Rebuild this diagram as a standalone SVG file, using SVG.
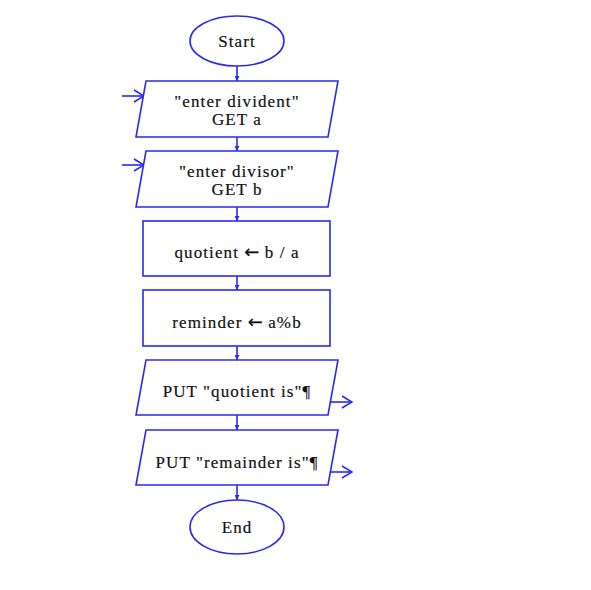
<svg xmlns="http://www.w3.org/2000/svg" width="591" height="590" viewBox="0 0 591 590">
<style>
.shape{fill:#fff;stroke:#2a2aee;stroke-width:1.6}
.line{stroke:#2a2aee;stroke-width:1.6;fill:none}
text{font-family:"Liberation Serif","Times New Roman",serif;font-size:17px;fill:#111;stroke:#111;stroke-width:0.2;text-anchor:middle;letter-spacing:1.1px}
.arr{font-family:"DejaVu Sans",sans-serif;font-size:18px;letter-spacing:0}
</style>
<defs>
<marker id="open" viewBox="0 0 12 14" refX="11" refY="7" markerWidth="12" markerHeight="14" markerUnits="userSpaceOnUse" orient="auto">
<path d="M1,1 L11,7 L1,13" fill="none" stroke="#2a2aee" stroke-width="1.6"/>
</marker>
<marker id="small" viewBox="0 0 6 6" refX="6" refY="3" markerWidth="5" markerHeight="5" markerUnits="userSpaceOnUse" orient="auto">
<path d="M0,0 L6,3 L0,6 Z" fill="#2a2aee"/>
</marker>
</defs>
<rect width="591" height="590" fill="#fff"/>
<g id="connectors">
<line class="line" x1="237" y1="66" x2="237" y2="81" marker-end="url(#small)"/>
<line class="line" x1="237" y1="137" x2="237" y2="151" marker-end="url(#small)"/>
<line class="line" x1="237" y1="207" x2="237" y2="221" marker-end="url(#small)"/>
<line class="line" x1="237" y1="276" x2="237" y2="290" marker-end="url(#small)"/>
<line class="line" x1="237" y1="346" x2="237" y2="360" marker-end="url(#small)"/>
<line class="line" x1="237" y1="415" x2="237" y2="430" marker-end="url(#small)"/>
<line class="line" x1="237" y1="485" x2="237" y2="500" marker-end="url(#small)"/>
<line class="line" x1="122" y1="96" x2="144" y2="96" marker-end="url(#open)"/>
<line class="line" x1="122" y1="165" x2="144" y2="165" marker-end="url(#open)"/>
<line class="line" x1="329" y1="402" x2="352" y2="402" marker-end="url(#open)"/>
<line class="line" x1="329" y1="472" x2="352" y2="472" marker-end="url(#open)"/>
</g>
<g id="start">
<ellipse class="shape" cx="237" cy="41" rx="47" ry="25"/>
<text x="237" y="47">Start</text>
</g>
<g id="input-a">
<polygon class="shape" points="146,81 338,81 328,137 136,137"/>
<text x="237" y="107">"enter divident"</text>
<text x="237" y="125">GET a</text>
</g>
<g id="input-b">
<polygon class="shape" points="146,151 338,151 328,207 136,207"/>
<text x="237" y="177">"enter divisor"</text>
<text x="237" y="195">GET b</text>
</g>
<g id="quotient">
<rect class="shape" x="143" y="221" width="187" height="55"/>
<text x="237" y="258">quotient <tspan class="arr">←</tspan> b / a</text>
</g>
<g id="reminder">
<rect class="shape" x="143" y="290" width="187" height="56"/>
<text x="237" y="328">reminder <tspan class="arr">←</tspan> a%b</text>
</g>
<g id="put-quotient">
<polygon class="shape" points="146,360 338,360 328,415 136,415"/>
<text x="237" y="397">PUT "quotient is"¶</text>
</g>
<g id="put-remainder">
<polygon class="shape" points="146,430 338,430 328,485 136,485"/>
<text x="237" y="468">PUT "remainder is"¶</text>
</g>
<g id="end">
<ellipse class="shape" cx="237" cy="527" rx="47" ry="27"/>
<text x="237" y="533">End</text>
</g>
</svg>
